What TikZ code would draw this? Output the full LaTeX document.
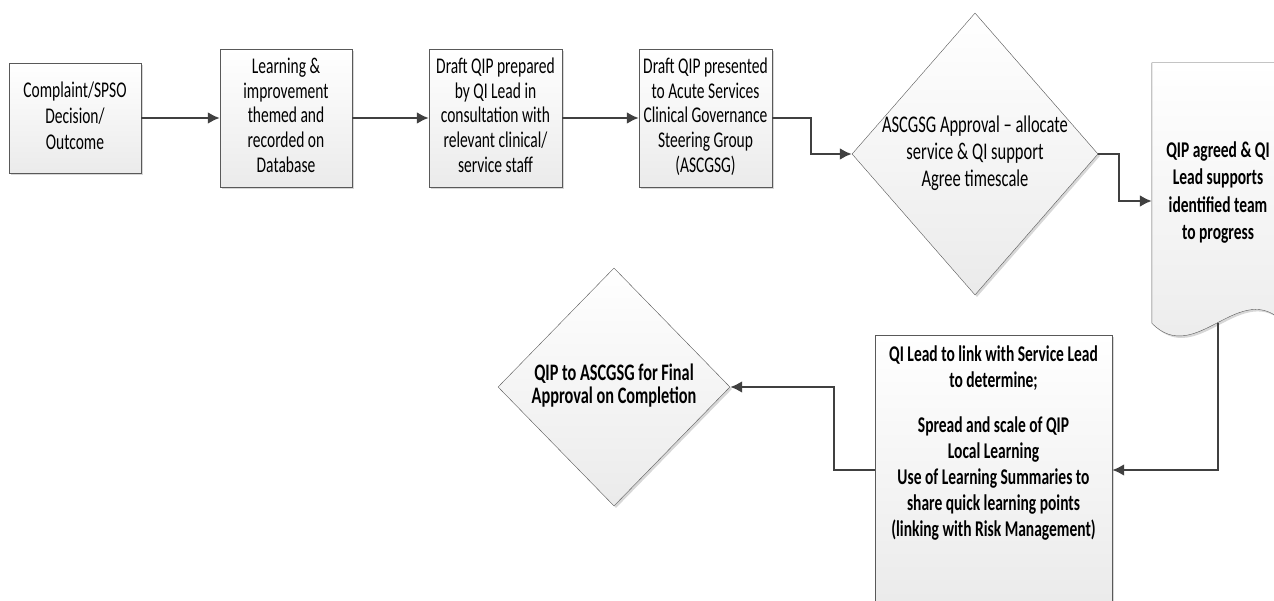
\documentclass[tikz,border=0pt]{standalone}
\usepackage{graphicx}
\usepackage{fontspec}
\setmainfont{Carlito}
\usetikzlibrary{shapes.geometric, shadows, backgrounds, positioning, arrows.meta}

\newcommand{\tall}[1]{\scalebox{1}[1.45]{\begin{tabular}{@{}c@{}}#1\end{tabular}}}
\newcommand{\dtall}[1]{\makebox[0pt]{\tall{#1}}}

\tikzset{
	shade box/.style={draw=black!65, thin, top color=white, bottom color=black!8,
		drop shadow={shadow xshift=2pt, shadow yshift=-2pt, fill=black!35, opacity=0.45}},
	proc/.style={rectangle, shade box, inner sep=0pt, font=\fontsize{15.5}{17}\selectfont},
	decision/.style={diamond, shade box, inner sep=0pt, font=\fontsize{16.5}{18.5}\selectfont},
	bold/.style={font=\bfseries\fontsize{15.5}{18}\selectfont},
	flow/.style={-{Latex[length=12pt, width=12pt]}, draw=black!75, line width=2.4pt}
}

\begin{document}
\begin{tikzpicture}[x=1pt, y=-1pt]
		\useasboundingbox (0,0) rectangle (1274,601);
		
		%Nodes
		\node[proc, minimum width=132pt, minimum height=110pt, font=\fontsize{15.5}{18}\selectfont] (outcome) at (75,118) {\tall{Complaint/SPSO\\Decision/\\Outcome}};
		\node[proc, minimum width=132pt, minimum height=138pt] (themed) at (286,118) {\tall{Learning \&\\improvement\\themed and\\recorded on\\Database}};
		\node[proc, minimum width=133pt, minimum height=138pt] (draft) at (495.5,118) {\tall{Draft QIP prepared\\by QI Lead in\\consultation with\\relevant clinical/\\service staff}};
		\node[proc, minimum width=133pt, minimum height=138pt] (present) at (705.5,118) {\tall{Draft QIP presented\\to Acute Services\\Clinical Governance\\Steering Group\\(ASCGSG)}};
		\node[decision, minimum width=246pt, minimum height=282pt] (approve) at (975,154) {\dtall{ASCGSG Approval -- allocate\\service \& QI support\\Agree timescale}};
		\node[bold, minimum width=132pt, minimum height=260pt, inner sep=0pt, font=\bfseries\fontsize{15.5}{19}\selectfont] (agreed) at (1218,193) {\raisebox{7pt}{\tall{QIP agreed \& QI\\Lead supports\\identified team\\to progress}}};
		\node[proc, minimum width=237pt, minimum height=270pt] (spread) at (993.5,470) {};
		\node[bold] (spreadtext) at (993.5,444) {\tall{QI Lead to link with Service Lead\\to determine;\\[13pt]Spread and scale of QIP\\Local Learning\\Use of Learning Summaries to\\share quick learning points\\(linking with Risk Management)}};
		\node[decision, minimum width=232pt, minimum height=238pt, font=\bfseries\fontsize{16.3}{14}\selectfont] (final) at (614,387) {\dtall{QIP to ASCGSG for Final\\Approval on Completion}};
		
		%Document outline
		\begin{scope}[on background layer]
			\draw[shade box] (agreed.south east) -- (agreed.north east) -- (agreed.north west) -- (agreed.south west)
				.. controls +(44,45) and +(-44,-47) .. (agreed.south east) -- cycle;
		\end{scope}
		
		%Arrows
		\draw[flow] (outcome.east) -- (themed.west);
		\draw[flow] (themed.east) -- (draft.west);
		\draw[flow] (draft.east) -- (present.west);
		\draw[flow] (present.east) -- ++(39,0) |- (approve.west);
		\draw[flow] (approve.east) -- ++(21,0) |- ([yshift=-8pt]agreed.west);
		\draw[flow] (agreed.south) |- (spread.east);
		\draw[flow] (spread.west) -- ++(-41,0) |- (final.east);
	\end{tikzpicture}
\end{document}
